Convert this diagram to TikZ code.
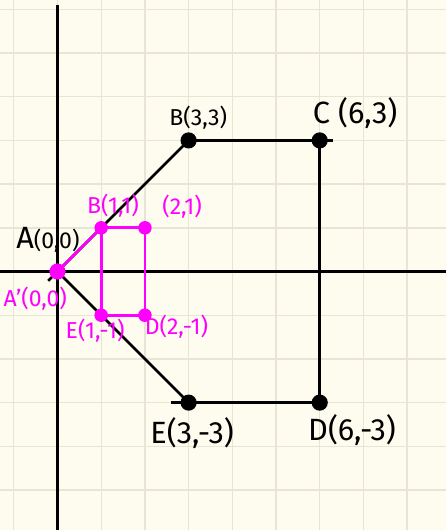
\documentclass[tikz,border=0pt]{standalone}
\usepackage{fontspec}
\setmainfont{Fira Sans}
\definecolor{paper}{HTML}{FEFCEE}
\definecolor{gridline}{HTML}{E8E4D6}
\definecolor{inkpink}{HTML}{FF00FF}
\begin{document}
\begin{tikzpicture}[
  blackdot/.style={circle, fill=black, inner sep=0pt, minimum size=0.37cm},
  pinkdot/.style={circle, fill=inkpink, inner sep=0pt, minimum size=0.31cm},
  biglabel/.style={font=\fontsize{20}{20}\selectfont, text=black, inner sep=0pt},
  smalllabel/.style={font=\fontsize{15}{15}\selectfont, text=black, inner sep=0pt},
  pinklabel/.style={font=\fontsize{15}{15}\selectfont, text=inkpink, inner sep=0pt},
  axis/.style={line width=2pt, black},
  edge/.style={line width=1.7pt, black},
  pinkedge/.style={line width=1.8pt, inkpink}
]

% Paper and grid
\fill[paper] (-1.316,-5.915) rectangle (8.89,6.213);
\useasboundingbox (-1.316,-5.915) rectangle (8.89,6.213);
\draw[gridline, line width=0.9pt] (-1.316,-5.915) grid (8.89,6.213);

% Axes
\coordinate (xl) at (-1.316,0);
\coordinate (xr) at (8.89,0);
\coordinate (yt) at (0,6.1);
\coordinate (yb) at (0,-5.915);
\draw[axis] (xl) -- (xr);
\draw[axis] (yt) -- (yb);

% Original figure
\coordinate (A) at (0,0);
\coordinate (B) at (3,3);
\coordinate (C) at (6,3);
\coordinate (D) at (6,-3);
\coordinate (E) at (3,-3);

\draw[edge, shorten <=-0.3cm] (A) -- (B);
\draw[edge, shorten >=-0.3cm] (B) -- (C);
\draw[edge] (C) -- (D);
\draw[edge, shorten >=-0.4cm] (D) -- (E);
\draw[edge] (E) -- (A);

\node[blackdot] (b) at (B) {};
\node[blackdot] (c) at (C) {};
\node[blackdot] (d) at (D) {};
\node[blackdot] (e) at (E) {};

% Scaled figure
\coordinate (A1) at (0,0);
\coordinate (B1) at (1,1);
\coordinate (C1) at (2,1);
\coordinate (D1) at (2,-1);
\coordinate (E1) at (1,-1);

\draw[pinkedge] (A1) -- (B1);
\draw[pinkedge] (B1) -- (C1) -- (D1) -- (E1) -- cycle;

\node[pinkdot, minimum size=0.37cm] (a1) at (A1) {};
\node[pinkdot] (b1) at (B1) {};
\node[pinkdot] (c1) at (C1) {};
\node[pinkdot] (d1) at (D1) {};
\node[pinkdot] (e1) at (E1) {};

% Labels
\node[smalllabel] (tA) at (-0.22,0.72) {{\fontsize{20}{20}\selectfont A}(0,0)};
\node[smalllabel] (tB) at (3.22,3.53) {B(3,3)};
\node[biglabel] (tC) at (6.81,3.63) {C (6,3)};
\node[biglabel] (tD) at (6.74,-3.63) {D(6,-3)};
\node[biglabel] (tE) at (3.08,-3.70) {E(3,-3)};

\node[pinklabel] (tA1) at (-0.51,-0.63) {A'(0,0)};
\node[pinklabel] (tB1) at (1.27,1.50) {B(1,1)};
\node[pinklabel] (tC1) at (2.85,1.48) {(2,1)};
\node[pinklabel] (tD1) at (2.72,-1.27) {D(2,-1)};
\node[pinklabel] (tE1) at (0.86,-1.36) {E(1,-1)};

\end{tikzpicture}
\end{document}
